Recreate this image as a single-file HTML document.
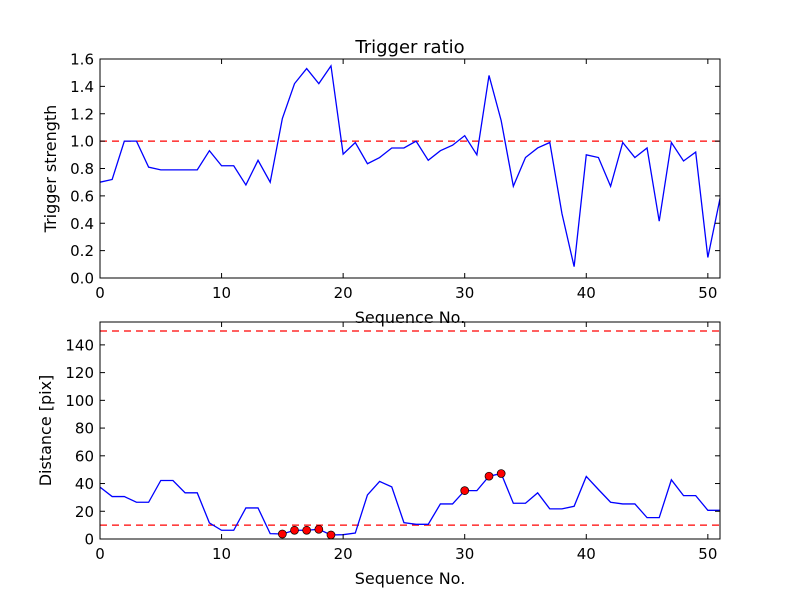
<!DOCTYPE html>
<html><head><meta charset="utf-8"><style>body{margin:0;background:#fff}svg{display:block}text{font-family:"DejaVu Sans","Liberation Sans",sans-serif;fill:#000}</style></head>
<body>
<svg id="c" width="800" height="600"></svg>
<script>
const xTicks=[0,10,20,30,40,50];
const ratio=[0.70,0.72,1.0,1.0,0.81,0.79,0.79,0.79,0.79,0.93,0.82,0.82,0.68,0.86,0.70,1.165,1.42,1.53,1.42,1.55,0.905,0.99,0.835,0.88,0.95,0.95,1.0,0.86,0.93,0.97,1.04,0.90,1.48,1.15,0.67,0.88,0.95,0.99,0.47,0.083,0.90,0.88,0.67,0.99,0.88,0.95,0.415,0.99,0.855,0.92,0.15,0.58];
const ratioTicks=[0,0.2,0.4,0.6,0.8,1.0,1.2,1.4,1.6];
const ratioThreshold=[1.0];
const dist=[37.4,30.6,30.6,26.5,26.5,42.2,42.2,33.3,33.3,11.6,6.3,6.3,22.4,22.4,3.9,3.6,6.3,6.3,7.0,2.9,3.1,4.3,31.8,41.5,37.6,11.8,10.6,10.6,25.3,25.3,34.9,34.9,45.3,47.2,25.8,25.8,33.3,21.7,21.7,23.6,45.1,35.7,26.5,25.3,25.3,15.4,15.4,42.7,31.3,31.3,20.7,20.7];
const markIdx=[15,16,17,18,19,30,32,33];
const distTicks=[0,20,40,60,80,100,120,140];
const distThresholds=[10,150];
const svg=document.getElementById('c');const NS='http://www.w3.org/2000/svg';
function mk(t,a,p){const e=document.createElementNS(NS,t);for(const k in a)e.setAttribute(k,a[k]);(p||svg).appendChild(e);return e;}
function panel(name,top,bot,ymin,ymax,data,ticks,thr,fmt,title,ylab,marks){
 const L=100,R=720,xmax=51;
 const X=v=>L+v/xmax*(R-L),Y=v=>bot-(v-ymin)/(ymax-ymin)*(bot-top);
 const g=mk('g',{});
 thr.forEach(t=>{const l=mk('line',{x1:L,x2:R,y1:Y(t),y2:Y(t),stroke:'#f00','stroke-width':1.3,'stroke-dasharray':'7,5'},g);});
 const p=mk('polyline',{points:data.map((v,i)=>X(i)+','+Y(v)).join(' '),fill:'none',stroke:'#00f','stroke-width':1.3},g);
 
 (marks||[]).forEach(i=>{const c=mk('circle',{cx:X(i),cy:Y(data[i]),r:4,fill:'#f00',stroke:'#000','stroke-width':0.7},g);});
 const fr=mk('rect',{x:L,y:top,width:R-L,height:bot-top,fill:'none',stroke:'#000','stroke-width':1},g);
 xTicks.forEach(t=>{const x=X(t);mk('line',{x1:x,x2:x,y1:bot,y2:bot-5,stroke:'#000'},g);mk('line',{x1:x,x2:x,y1:top,y2:top+5,stroke:'#000'},g);
  const tx=mk('text',{x:x,y:bot+20,'text-anchor':'middle','font-size':15},g);tx.textContent=t;});
 ticks.forEach(t=>{const y=Y(t);mk('line',{x1:L,x2:L+5,y1:y,y2:y,stroke:'#000'},g);mk('line',{x1:R,x2:R-5,y1:y,y2:y,stroke:'#000'},g);
  const tx=mk('text',{x:L-6,y:y+5.5,'text-anchor':'end','font-size':15},g);tx.textContent=fmt(t);});
 const xl=mk('text',{x:410,y:bot+45,'text-anchor':'middle','font-size':16},g);xl.textContent='Sequence No.';
 const yl=mk('text',{x:0,y:0,'text-anchor':'middle','font-size':16,transform:`translate(${name==='ratio'?56:51},${(top+bot)/2}) rotate(-90)`},g);yl.textContent=ylab;
 if(title){const tt=mk('text',{x:410,y:top-6,'text-anchor':'middle','font-size':18},g);tt.textContent=title;}
}
panel('ratio',59,278,0,1.6,ratio,ratioTicks,ratioThreshold,t=>t.toFixed(1),'Trigger ratio','Trigger strength');
panel('distance',322,539,0,156.5,dist,distTicks,distThresholds,t=>String(t),null,'Distance [pix]',markIdx);
</script>
</body></html>
